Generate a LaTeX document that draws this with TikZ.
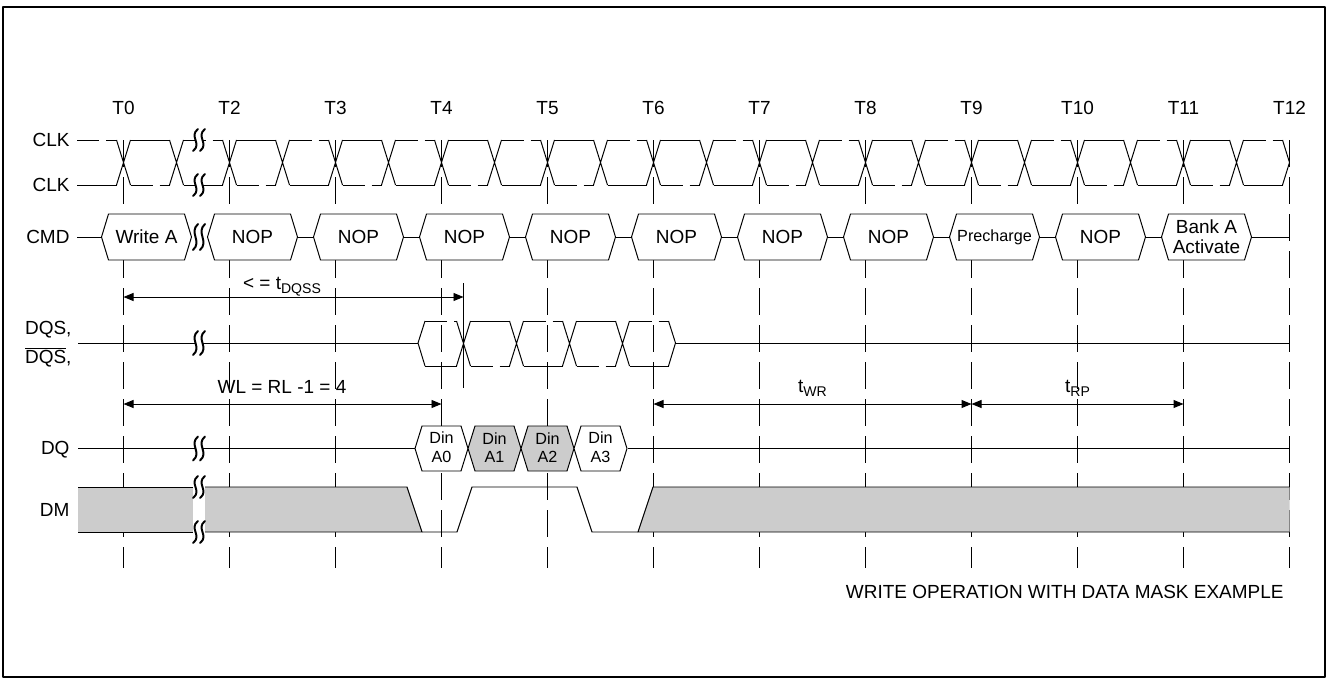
\documentclass[tikz,border=0pt]{standalone}
\usepackage{fontspec}
\setmainfont{Liberation Sans}
\usetikzlibrary{arrows.meta, positioning}
\definecolor{maskgray}{HTML}{CCCCCC}

\newcommand{\tparam}[1]{t\raisebox{-3.5pt}{\fontsize{10}{10}\selectfont #1}}
\newcommand{\wavebreak}[3]{%
  \fill[white] ({#1-3.5},{#2-2}) rectangle ({#1+3.5},{#2+2});
  \foreach \dx in {-3.5,3.5}
    \draw[line width=1.4pt, line cap=round] ({#1+(\dx)+2.5},{#2-#3}) .. controls ({#1+(\dx)-7},{#2-#3/3}) and ({#1+(\dx)+7},{#2+#3/3}) .. ({#1+(\dx)-2.5},{#2+#3});
}

\begin{document}
\begin{tikzpicture}[x=0.25mm, y=-0.25mm, line width=0.7pt, line join=round]
\tikzstyle{tline} = [dash pattern=on 6.75mm off 2.5mm, line width=0.55pt]
\tikzstyle{dashwave} = [dash pattern=on 5.5mm off 1.75mm]
\tikzstyle{signame} = [anchor=base east, inner sep=0pt, font=\fontsize{13.5}{15}\selectfont]
\tikzstyle{tmark} = [anchor=base, inner sep=0pt, font=\fontsize{13.5}{15}\selectfont]
\tikzstyle{cmdtext} = [inner sep=0pt, align=center, font=\fontsize{13.5}{14.5}\selectfont]
\tikzstyle{dintext} = [inner sep=0pt, align=center, font=\fontsize{11.5}{13.3}\selectfont]
\tikzstyle{dimarrow} = [arrows={Triangle[length=2.5mm,width=2mm]-Triangle[length=2.5mm,width=2mm]}]
\tikzstyle{dimtext} = [anchor=base, inner sep=0pt, font=\fontsize{13.5}{15}\selectfont]

\useasboundingbox (0,0) rectangle (1328,679);
\draw[line width=0.8pt] (3,7) rectangle (1325,677);

% signal names
\node[signame] (clk) at (70,146.5) {CLK};
\node[signame] (clkb) at (70,191.5) {CLK};
\node[signame] (cmd) at (70,243.5) {CMD};
\node[signame] (dqs) at (72,334.5) {DQS,};
\node[signame] (dqsb) at (72,363.5) {$\overline{\mbox{DQS}}$,};
\node[signame] (dq) at (70,454.5) {DQ};
\node[signame] (dm) at (70,516) {DM};

% clock edges
\foreach \i/\n in {0/0,1/2,2/3,3/4,4/5,5/6,6/7,7/8,8/9,9/10,10/11,11/12} {
  \coordinate (T\n) at ({123.5+106*\i},140);
  \node[tmark] (tlab\n) at ({123.5+106*\i},114.5) {T\n};
  \draw[tline] (T\n) -- ++(0,428);
}

% CLK pair
\draw[dashwave] (77,140) -- (116.5,140);
\draw (77,185) -- (116.5,185);
\foreach \k in {0,...,21}
  \draw ({123.5+53*\k-7},140) -- ({123.5+53*\k+7},185) ({123.5+53*\k-7},185) -- ({123.5+53*\k+7},140);
\foreach \k in {0,2,...,20} {
  \draw ({123.5+53*\k+7},140) -- ({123.5+53*\k+46},140);
  \draw[dashwave] ({123.5+53*\k+7},185) -- ({123.5+53*\k+46},185);
}
\foreach \k in {1,3,...,21} {
  \draw[dashwave] ({123.5+53*\k+7},140) -- ({123.5+53*\k+46},140);
  \draw ({123.5+53*\k+7},185) -- ({123.5+53*\k+46},185);
}
\draw (1282.5,140) -- (1289.5,162.5) -- (1282.5,185);
\wavebreak{199}{140}{11}
\wavebreak{199}{185}{11}

% CMD
\draw (77,237) -- (101.5,237);
\foreach \i in {1,...,9}
  \draw ({123.5+106*\i+68},237) -- ({123.5+106*(\i+1)-22},237);
\draw (1251.5,237) -- (1289.5,237);
\foreach \i/\txt in {0/Write A,1/NOP,2/NOP,3/NOP,4/NOP,5/NOP,6/NOP,7/NOP,8/{\fontsize{11.5}{13}\selectfont Precharge},9/NOP,10/{Bank A\\Activate}} {
  \draw[fill=white] ({123.5+106*\i-22},237) -- ({123.5+106*\i-15},214) -- ({123.5+106*\i+61},214)
    -- ({123.5+106*\i+68},237) -- ({123.5+106*\i+61},260) -- ({123.5+106*\i-15},260) -- cycle;
  \node[cmdtext] (cmd\i) at ({123.5+106*\i+23},237) {\txt};
}
\wavebreak{199}{237}{13}

% tDQSS and WL
\coordinate (dqss-a) at (123.5,297);
\coordinate (dqss-b) at (463.5,297);
\draw[dimarrow] (dqss-a) -- (dqss-b);
\node[dimtext] (dqss-lab) at (282,289) {< = \tparam{DQSS}};
\draw (463.5,283) -- (463.5,388);

\coordinate (wl-a) at (123.5,404);
\coordinate (wl-b) at (441.5,404);
\draw[dimarrow] (wl-a) -- (wl-b);
\node[dimtext] (wl-lab) at (282,393) {WL = RL -1 = 4};

\coordinate (wr-a) at (653.5,404);
\coordinate (wr-b) at (971.5,404);
\coordinate (rp-b) at (1183.5,404);
\draw[dimarrow] (wr-a) -- (wr-b);
\draw[dimarrow] (wr-b) -- (rp-b);
\node[dimtext] (wr-lab) at (812.5,392) {\tparam{WR}};
\node[dimtext] (rp-lab) at (1077.5,392) {\tparam{RP}};

% DQS
\draw (78,343) -- (418,343);
\wavebreak{199}{343}{12}
\draw (425,321) -- (418,343) -- (425,366);
\draw[dashwave] (425,321) -- (456.5,321);
\draw (425,366) -- (456.5,366);
\foreach \j in {0,...,3}
  \draw ({463.5+53*\j-7},321) -- ({463.5+53*\j+7},366) ({463.5+53*\j-7},366) -- ({463.5+53*\j+7},321);
\foreach \j in {0,2} {
  \draw ({463.5+53*\j+7},321) -- ({463.5+53*\j+46},321);
  \draw[dashwave] ({463.5+53*\j+7},366) -- ({463.5+53*\j+46},366);
}
\foreach \j in {1,3} {
  \draw[dashwave] ({463.5+53*\j+7},321) -- ({463.5+53*\j+46},321);
  \draw ({463.5+53*\j+7},366) -- ({463.5+53*\j+46},366);
}
\draw (668.5,321) -- (675.5,343) -- (668.5,366);
\draw (675.5,343) -- (1289.5,343);

% DQ
\draw (78,448.5) -- (415,448.5);
\wavebreak{199}{448.5}{12}
\draw (627.5,448.5) -- (1289.5,448.5);
\foreach \j/\fc in {0/white,1/maskgray,2/maskgray,3/white} {
  \draw[fill=\fc] ({441.5+53*\j-26.5},448.5) -- ({441.5+53*\j-19.5},426) -- ({441.5+53*\j+19.5},426)
    -- ({441.5+53*\j+26.5},448.5) -- ({441.5+53*\j+19.5},471) -- ({441.5+53*\j-19.5},471) -- cycle;
  \node[dintext] (din\j) at ({441.5+53*\j},447.5) {Din\\A\j};
}

% DM
\fill[maskgray] (78,487) rectangle (193,532);
\draw (78,487) -- (193,487) (78,532) -- (193,532);
\fill[maskgray] (205,487) -- (407,487) -- (422,532) -- (205,532) -- cycle;
\draw (205,487) -- (407,487) -- (422,532) -- (205,532);
\draw (422,532) -- (457,532) -- (472,487) -- (577,487) -- (592,532) -- (638,532);
\fill[maskgray] (638,532) -- (653,487) -- (1289.5,487) -- (1289.5,532) -- cycle;
\draw (1289.5,487) -- (653,487) -- (638,532) -- (1289.5,532);
\wavebreak{199}{487}{11}
\wavebreak{199}{532}{11}

\node[anchor=base east, inner sep=0pt, font=\fontsize{13.5}{15}\selectfont] (caption) at (1284,598.5) {WRITE OPERATION WITH DATA MASK EXAMPLE};

\end{tikzpicture}
\end{document}
